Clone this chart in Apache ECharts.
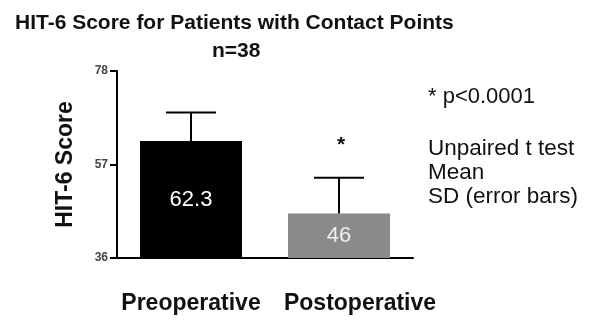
<!DOCTYPE html>
<html>
<head>
<meta charset="utf-8">
<script src="https://cdn.jsdelivr.net/npm/echarts@6/dist/echarts.min.js"></script>
<style>
  html, body { margin: 0; padding: 0; background: #fff; }
  #chart { width: 600px; height: 328px; }
</style>
</head>
<body>
<div id="chart"></div>
<script>
// HIT-6 scores before and after surgery (mean ± SD)
const categories = ['Preoperative', 'Postoperative'];
const means = [62.3, 46];
const sds = [6.4, 8.0];
const significance = ['', '*'];
const barColors = ['#000000', '#8a8a8a'];
const labelColors = ['#ffffff', '#eeeeee'];
const yTicks = [36, 57, 78];
const pNote = '* p<0.0001';
const methodNotes = ['Unpaired t test', 'Mean', 'SD (error bars)'];

const FONT = '"Liberation Sans", Arial, Helvetica, sans-serif';

const chart = echarts.init(document.getElementById('chart'), null, { renderer: 'canvas' });

const errorData = categories.map((c, i) => [i, means[i], sds[i], significance[i]]);

chart.setOption({
  animation: false,
  backgroundColor: '#ffffff',
  title: [
    {
      text: 'HIT-6 Score for Patients with Contact Points',
      left: 10, top: 8,
      textStyle: { fontFamily: FONT, fontSize: 21, fontWeight: 'bold', color: '#111' }
    },
    {
      text: 'n=38',
      left: 207, top: 36,
      textStyle: { fontFamily: FONT, fontSize: 21, fontWeight: 'bold', color: '#111' }
    }
  ],
  grid: { left: 117, right: 187, top: 71, bottom: 70, containLabel: false },
  xAxis: {
    type: 'category',
    data: categories,
    axisLine: { lineStyle: { color: '#000', width: 2 } },
    axisTick: { alignWithLabel: true, length: 7, lineStyle: { color: '#000', width: 2 } },
    axisLabel: {
      margin: 34,
      interval: 0,
      formatter: (v, i) => i === 1 ? '{b|' + v + '}' : '{a|' + v + '}',
      rich: {
        a: { fontFamily: FONT, fontSize: 23, fontWeight: 'bold', color: '#111' },
        b: { fontFamily: FONT, fontSize: 23, fontWeight: 'bold', color: '#111', padding: [0, 0, 0, 42] }
      }
    }
  },
  yAxis: {
    type: 'value',
    min: 36,
    max: 78,
    name: 'HIT-6 Score',
    nameLocation: 'middle',
    nameRotate: 90,
    nameGap: 40,
    nameTextStyle: { fontFamily: FONT, fontSize: 23, fontWeight: 'bold', color: '#111' },
    axisLine: { show: true, lineStyle: { color: '#000', width: 2 } },
    axisTick: { show: true, length: 7, customValues: yTicks, lineStyle: { color: '#000', width: 2 } },
    axisLabel: {
      customValues: yTicks,
      margin: 9,
      fontFamily: FONT, fontSize: 12, fontWeight: 'bold', color: '#444'
    },
    splitLine: { show: false }
  },
  series: [
    {
      type: 'bar',
      barWidth: 102,
      data: means.map((m, i) => ({
        value: m,
        itemStyle: { color: barColors[i] },
        label: { color: labelColors[i] }
      })),
      label: {
        show: true,
        position: 'inside',
        formatter: '{c}',
        fontFamily: FONT,
        fontSize: 22
      },
      z: 2
    },
    {
      type: 'custom',
      data: errorData,
      z: 3,
      renderItem: function (params, api) {
        const idx = api.value(0);
        const mean = api.value(1);
        const sd = api.value(2);
        const base = api.coord([idx, mean]);
        const top = api.coord([idx, mean + sd]);
        const half = 25;
        const children = [
          { type: 'line', shape: { x1: base[0], y1: base[1], x2: top[0], y2: top[1] },
            style: { stroke: '#000', lineWidth: 2 } },
          { type: 'line', shape: { x1: top[0] - half, y1: top[1], x2: top[0] + half, y2: top[1] },
            style: { stroke: '#000', lineWidth: 2 } }
        ];
        const mark = errorData[params.dataIndex][3];
        if (mark) {
          children.push({
            type: 'text',
            style: {
              text: mark, x: top[0] + 2, y: top[1] - 33,
              align: 'center', verticalAlign: 'middle',
              font: 'bold 21px ' + FONT, fill: '#111'
            }
          });
        }
        return { type: 'group', children: children };
      }
    }
  ],
  graphic: [
    {
      type: 'text',
      left: 428, top: 86,
      style: { text: pNote, font: '22px ' + FONT, fill: '#111' }
    },
    {
      type: 'text',
      left: 428, top: 137,
      style: {
        text: methodNotes.join('\n'),
        font: '22.5px ' + FONT,
        lineHeight: 24,
        fill: '#111'
      }
    }
  ]
});
</script>
</body>
</html>
